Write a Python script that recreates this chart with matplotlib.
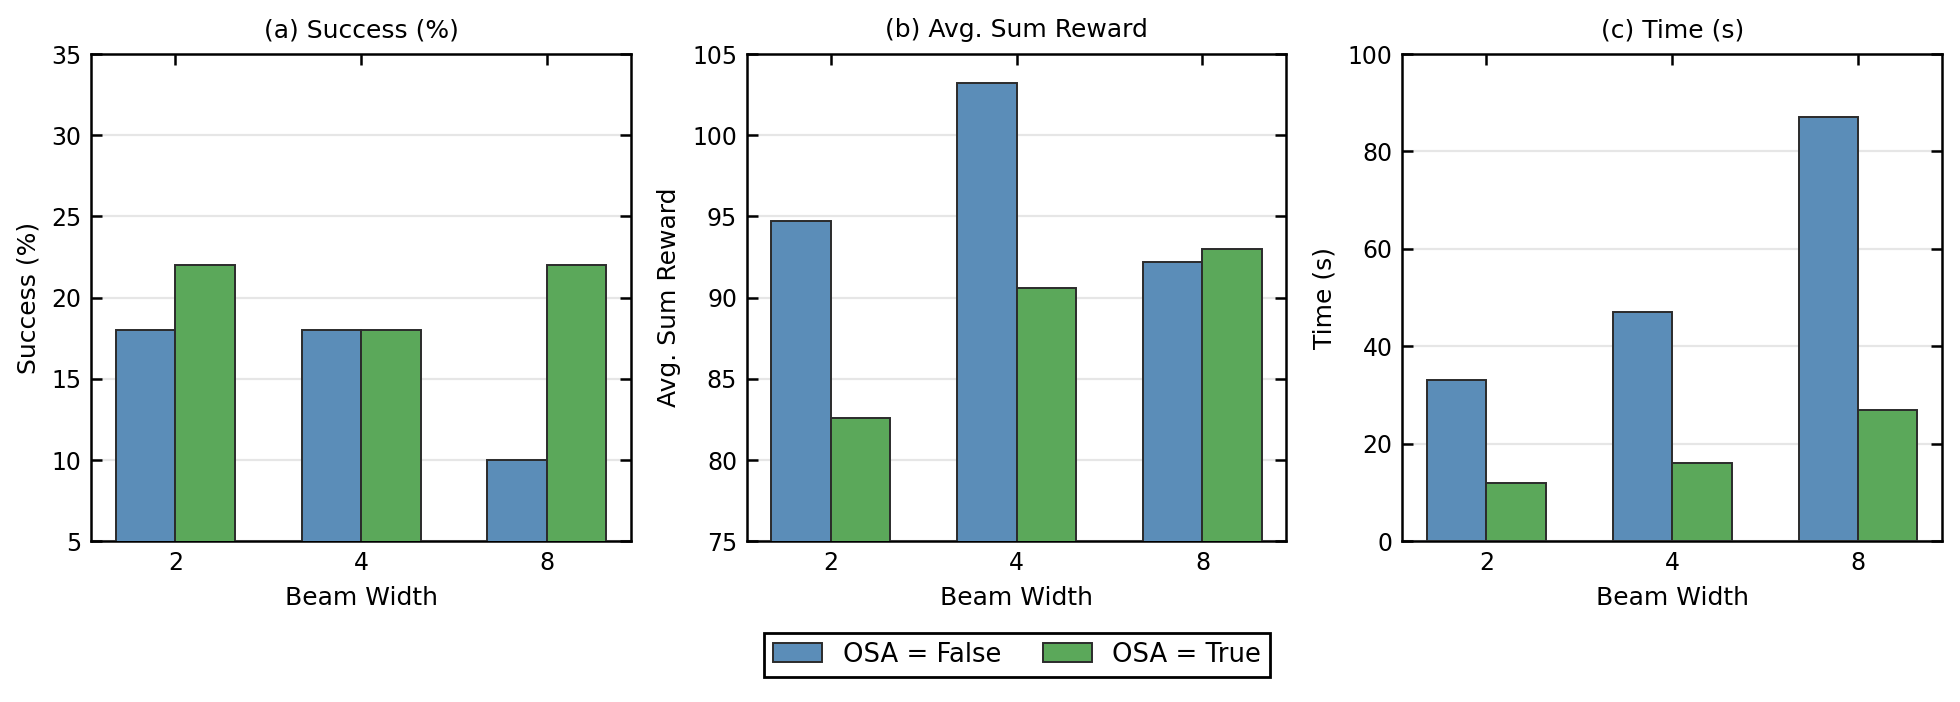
import matplotlib
matplotlib.use("Agg")
import matplotlib.pyplot as plt
import numpy as np

beam_widths = ["2", "4", "8"]
series_labels = ["OSA = False", "OSA = True"]

success_false = [18, 18, 10]
success_true = [22, 18, 22]
reward_false = [94.7, 103.2, 92.2]
reward_true = [82.6, 90.6, 93.0]
time_false = [33, 47, 87]
time_true = [12, 16, 27]

panels = [
    ("(a) Success (%)", "Success (%)", success_false, success_true, (5, 35), np.arange(5, 36, 5)),
    ("(b) Avg. Sum Reward", "Avg. Sum Reward", reward_false, reward_true, (75, 105), np.arange(75, 106, 5)),
    ("(c) Time (s)", "Time (s)", time_false, time_true, (0, 100), np.arange(0, 101, 20)),
]

c_false = "#5b8db8"
c_true = "#5ba85a"

plt.rcParams['font.family'] = ['DejaVu Sans']
fig, axes = plt.subplots(1, 3, figsize=(9.8, 3.51), dpi=200)
fig.subplots_adjust(left=0.0466, right=0.9908, top=0.923, bottom=0.229, wspace=0.215)

x = np.arange(len(beam_widths))
w = 0.32
handles = None
for ax, (title, ylabel, vf, vt, ylim, yticks) in zip(axes, panels):
    b1 = ax.bar(x - w/2, vf, w, color=c_false, edgecolor="#2b2b2b", linewidth=0.7, label=series_labels[0], zorder=3)
    b2 = ax.bar(x + w/2, vt, w, color=c_true, edgecolor="#2b2b2b", linewidth=0.7, label=series_labels[1], zorder=3)
    handles = [b1, b2]
    ax.set_ylim(*ylim)
    ax.set_yticks(yticks)
    ax.set_xticks(x)
    ax.set_xticklabels(beam_widths)
    ax.set_title(title, fontsize=9, pad=6)
    ax.set_ylabel(ylabel, fontsize=9)
    ax.set_xlabel("Beam Width", fontsize=9)
    ax.tick_params(direction="in", top=True, right=True, labelsize=8.5, length=4, width=0.9)
    ax.yaxis.grid(True, color="#e6e6e6", linewidth=0.8, zorder=0)
    ax.set_axisbelow(True)
    for s in ax.spines.values():
        s.set_linewidth(0.9)

fig.legend(handles, series_labels, loc="upper center", bbox_to_anchor=(0.519, 0.099),
           ncol=2, fontsize=9.3, frameon=True, fancybox=False, edgecolor="black",
           borderaxespad=0, handlelength=1.9, columnspacing=1.6, borderpad=0.35,
           framealpha=1)
fig.savefig("out.png", dpi=200)
